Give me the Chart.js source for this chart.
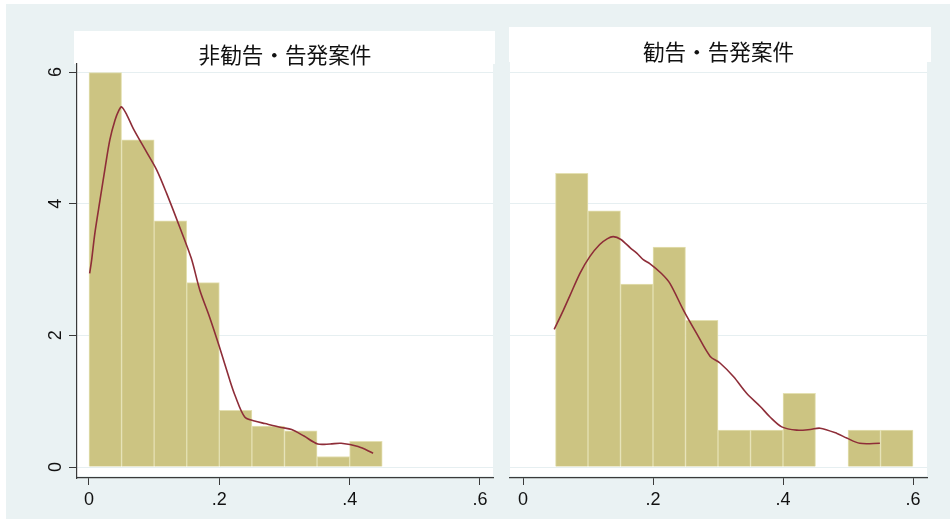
<!DOCTYPE html>
<html lang="ja">
<head>
<meta charset="utf-8">
<title>勧告・告発案件 ヒストグラム</title>
<script src="https://cdn.jsdelivr.net/npm/chart.js@4.4.0/dist/chart.umd.min.js"></script>
<style>
  html, body { margin: 0; padding: 0; background: #fff; }
  #stage { position: relative; width: 950px; height: 519px; overflow: hidden; }
  #bg { position: absolute; left: 6px; top: 4px; width: 944px; height: 515px; background: #eaf2f3; }
  canvas { position: absolute; top: 0; }
  #left { left: 0; }
  #right { left: 500px; }
</style>
</head>
<body>
<div id="stage">
  <div id="bg"></div>
  <canvas id="left" width="500" height="519"></canvas>
  <canvas id="right" width="450" height="519"></canvas>
</div>
<script>
// --- datos ---
const tituloIzq = '非勧告・告発案件';
const tituloDer = '勧告・告発案件';

const xTicks = [0, 0.2, 0.4, 0.6];
const xTickLabels = ['0', '.2', '.4', '.6'];
const yTicks = [0, 2, 4, 6];

// histograma (densidad), ancho de clase 0.05
const binsIzq = [0.025, 0.075, 0.125, 0.175, 0.225, 0.275, 0.325, 0.375, 0.425];
const densIzq = [5.99, 4.97, 3.74, 2.80, 0.86, 0.62, 0.55, 0.16, 0.39];

const binsDer = [0.075, 0.125, 0.175, 0.225, 0.275, 0.325, 0.375, 0.425, 0.475, 0.525, 0.575];
const densDer = [4.46, 3.89, 2.78, 3.34, 2.23, 0.56, 0.56, 1.12, null, 0.56, 0.56];

// densidad kernel
const kdeIzqX = [0.001, 0.004, 0.009, 0.017, 0.025, 0.032, 0.040, 0.046, 0.050, 0.058, 0.068, 0.088, 0.104, 0.119, 0.139,
  0.157, 0.170, 0.185, 0.200, 0.216, 0.224, 0.239, 0.254, 0.270, 0.295, 0.311, 0.330, 0.351, 0.370, 0.387, 0.413, 0.436];
const kdeIzqY = [2.94, 3.14, 3.55, 4.06, 4.56, 4.97, 5.27, 5.42, 5.47, 5.35, 5.14, 4.79, 4.51, 4.16, 3.65,
  3.17, 2.69, 2.28, 1.83, 1.32, 1.09, 0.76, 0.70, 0.66, 0.60, 0.57, 0.47, 0.35, 0.35, 0.36, 0.31, 0.21];

const kdeDerX = [0.048, 0.062, 0.072, 0.088, 0.103, 0.118, 0.130, 0.139, 0.150, 0.165, 0.175, 0.185, 0.195, 0.213, 0.226, 0.247,
  0.267, 0.288, 0.303, 0.324, 0.344, 0.365, 0.380, 0.398, 0.421, 0.442, 0.457, 0.483, 0.498, 0.518, 0.549];
const kdeDerY = [2.09, 2.38, 2.60, 2.95, 3.20, 3.38, 3.47, 3.50, 3.46, 3.33, 3.25, 3.15, 3.09, 2.94, 2.79, 2.38,
  2.03, 1.68, 1.58, 1.37, 1.12, 0.92, 0.76, 0.61, 0.56, 0.57, 0.59, 0.51, 0.44, 0.36, 0.36];

// --- estilo ---
const colorBarra = '#ccc482';
const colorBordeBarra = '#e4e0b2';
const colorCurva = '#8e2d38';
const colorEje = '#3a3a3a';
const colorGrid = '#e6eff1';

// rellena de blanco la caja del titulo y la region del grafico
const fondoPanel = {
  id: 'fondoPanel',
  beforeDraw(chart, args, opts) {
    const a = chart.chartArea;
    const ctx = chart.ctx;
    ctx.save();
    ctx.fillStyle = '#ffffff';
    ctx.fillRect(a.left + opts.tl, opts.tTop, (a.right + opts.tr) - (a.left + opts.tl), opts.tBottom - opts.tTop);
    ctx.fillRect(a.left, opts.pTop, a.right - a.left, a.bottom - 2 - opts.pTop);
    ctx.restore();
  }
};

function armarGrafico(id, titulo, bins, dens, kx, ky, cfg) {
  const puntos = kx.map((x, i) => ({ x: x, y: ky[i] }));
  const barras = bins.map((x, i) => ({ x: x, y: dens[i] }));

  return new Chart(document.getElementById(id), {
    type: 'bar',
    data: {
      datasets: [
        {
          type: 'line',
          data: puntos,
          borderColor: colorCurva,
          borderWidth: 1.6,
          pointRadius: 0,
          fill: false,
          tension: 0.3,
          order: 0
        },
        {
          type: 'bar',
          data: barras,
          backgroundColor: colorBarra,
          borderColor: colorBordeBarra,
          borderWidth: 1,
          barPercentage: 1,
          categoryPercentage: 1,
          order: 1
        }
      ]
    },
    options: {
      responsive: false,
      animation: false,
      events: [],
      layout: { padding: { left: cfg.padLeft, right: cfg.padRight, top: 0, bottom: 0 } },
      plugins: {
        legend: { display: false },
        tooltip: { enabled: false },
        title: {
          display: true,
          text: titulo,
          fullSize: false,
          color: '#111',
          font: { family: '"Noto Sans CJK JP", "Noto Sans CJK SC", sans-serif', size: 21.6, weight: 'normal', lineHeight: cfg.titleLH },
          padding: { top: cfg.titlePad, bottom: 0 }
        },
        fondoPanel: cfg.fondo
      },
      scales: {
        x: {
          type: 'linear',
          min: cfg.xMin,
          max: cfg.xMax,
          offset: false,
          afterBuildTicks: s => { s.ticks = xTicks.map(v => ({ value: v })); },
          afterFit: s => { s.height = 41; },
          ticks: {
            color: '#111',
            font: { family: '"Liberation Sans", Arial, sans-serif', size: 18 },
            padding: 4,
            maxRotation: 0,
            callback: (v) => xTickLabels[xTicks.indexOf(v)]
          },
          grid: { offset: false, drawOnChartArea: false, drawTicks: true, tickLength: 7, tickColor: colorEje, tickWidth: 1 },
          border: { display: true, color: colorEje, width: 1.2 }
        },
        y: {
          type: 'linear',
          min: -0.167,
          max: 6.122,
          afterBuildTicks: s => { s.ticks = yTicks.map(v => ({ value: v })); },
          afterFit: s => { s.width = cfg.yWidth; },
          ticks: {
            display: cfg.yLabels,
            color: '#111',
            font: { family: '"Liberation Sans", Arial, sans-serif', size: 18 },
            minRotation: 90,
            maxRotation: 90,
            crossAlign: 'center',
            padding: 8
          },
          grid: { color: colorGrid, lineWidth: 1, drawTicks: cfg.yLabels, tickLength: 8, tickColor: colorEje },
          border: { display: cfg.yLabels, color: colorEje, width: 1.2 }
        }
      }
    },
    plugins: [fondoPanel]
  });
}

armarGrafico('left', tituloIzq, binsIzq, densIzq, kdeIzqX, kdeIzqY, {
  padLeft: 0, padRight: 7, yWidth: 77, yLabels: true,
  xMin: -0.0184, xMax: 0.62,
  titleLH: 0.81, titlePad: 46.5,
  fondo: { tl: -3, tr: 2, tTop: 31, tBottom: 64, pTop: 64 }
});

armarGrafico('right', tituloDer, binsDer, densDer, kdeDerX, kdeDerY, {
  padLeft: 10, padRight: 23, yWidth: 0, yLabels: false,
  xMin: -0.02, xMax: 0.6215,
  titleLH: 1.14, titlePad: 39.4,
  fondo: { tl: -1, tr: 4, tTop: 27, tBottom: 62, pTop: 62 }
});
</script>
</body>
</html>
